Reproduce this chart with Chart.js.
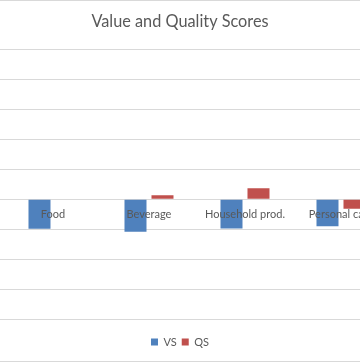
<!DOCTYPE html>
<html>
<head>
<meta charset="utf-8">
<script src="https://cdn.jsdelivr.net/npm/chart.js@4"></script>
<style>
  html, body { margin: 0; padding: 0; background: #fff; }
  #wrap { position: relative; width: 360px; height: 362px; overflow: hidden; }
  #frame { position: absolute; left: 0; top: 0; width: 360px; height: 362px; box-sizing: border-box;
           border-top: 1px solid #d9d9d9; border-bottom: 1px solid #d9d9d9; pointer-events: none; }
</style>
</head>
<body>
<div id="wrap">
  <canvas id="chart"></canvas>
  <div id="frame"></div>
</div>
<script>
const categories = ['Food', 'Beverage', 'Household prod.', 'Personal care'];
const vsValues = [-0.98, -1.08, -0.97, -0.9];
const qsValues = [0, 0.14, 0.37, -0.31];
const yTickValues = [-4, -3, -2, -1, 0, 1, 2, 3, 4, 5];

const grey = '#595959';
const gridColor = '#d9d9d9';

const points = (vals) => vals.map((v, i) => ({ x: i, y: v }));

new Chart(document.getElementById('chart'), {
  type: 'bar',
  data: {
    datasets: [
      { label: 'VS', data: points(vsValues), backgroundColor: '#4f81bd' },
      { label: 'QS', data: points(qsValues), backgroundColor: '#c0504d' }
    ]
  },
  options: {
    responsive: true,
    maintainAspectRatio: false,
    animation: false,
    categoryPercentage: 0.5625,
    barPercentage: 0.815,
    layout: { padding: { left: 0, right: 0, top: 0, bottom: 4.5 } },
    plugins: {
      title: {
        display: true,
        text: 'Value and Quality Scores',
        color: grey,
        font: { family: 'Lato', size: 16.3, weight: 'normal' },
        padding: { top: 12, bottom: 17.6 }
      },
      legend: {
        position: 'bottom',
        labels: {
          boxWidth: 7,
          boxHeight: 7,
          padding: 5,
          color: grey,
          font: { family: 'Lato', size: 11 }
        }
      },
      tooltip: { enabled: false }
    },
    scales: {
      x: {
        type: 'linear',
        position: { y: 0 },
        min: -0.552,
        max: 3.198,
        offset: false,
        grid: { display: false },
        border: { display: false },
        afterBuildTicks: (s) => {
          s.ticks = categories.map((_, i) => ({ value: i }));
        },
        afterFit: (s) => {
          s.paddingLeft = 0;
          s.paddingRight = 0;
        },
        ticks: {
          z: 1,
          autoSkip: false,
          maxRotation: 0,
          padding: 1,
          color: grey,
          font: { family: 'Lato', size: 11 },
          callback: (v) => categories[v]
        }
      },
      y: {
        min: -4.4,
        max: 5,
        afterBuildTicks: (s) => {
          s.ticks = yTickValues.map((v) => ({ value: v }));
        },
        grid: { color: gridColor, drawTicks: false },
        border: { display: false },
        ticks: { display: false }
      }
    }
  }
});
</script>
</body>
</html>
